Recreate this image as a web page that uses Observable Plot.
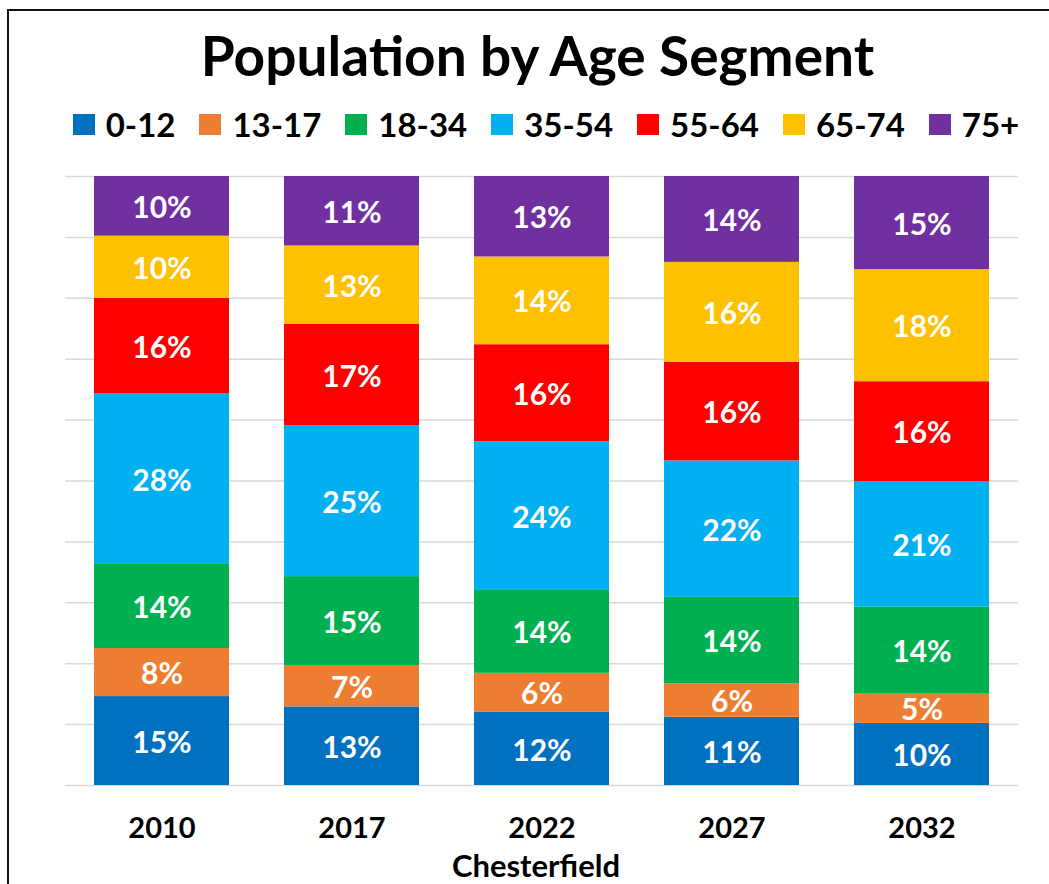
<!DOCTYPE html>
<html>
<head>
<meta charset="utf-8">
<script src="https://cdn.jsdelivr.net/npm/d3@7"></script>
<script src="https://cdn.jsdelivr.net/npm/@observablehq/plot@0.6"></script>
<style>
  html, body { margin: 0; padding: 0; background: #fff; }
  body { width: 1049px; height: 884px; position: relative; overflow: hidden; font-family: Lato, "Open Sans", sans-serif; }
  #frame { position: absolute; left: 7px; top: 9px; width: 1200px; height: 1000px; border: 2px solid #111; box-sizing: border-box; }
  #title { position: absolute; left: 0; width: 1075px; top: 28px; text-align: center; font-weight: 700; font-size: 55px; line-height: 1; color: #000; }
  #legend { position: absolute; left: 0; width: 1092px; top: 108px; display: flex; justify-content: center; font-weight: 700; font-size: 33px; line-height: 1; color: #000; }
  .item { display: flex; align-items: center; margin: 0 12px; }
  .sw { width: 22px; height: 21px; margin-right: 11px; }
  #chart { position: absolute; left: 0; top: 150px; }
</style>
</head>
<body>
<div id="frame"></div>
<div id="title">Population by Age Segment</div>
<div id="legend"></div>
<div id="chart"></div>
<script>
const years = ["2010", "2017", "2022", "2027", "2032"];
const segments = ["0-12", "13-17", "18-34", "35-54", "55-64", "65-74", "75+"];
const colors = ["#0070C0", "#ED7D31", "#00B050", "#00B0F0", "#FF0000", "#FFC000", "#7030A0"];

const v0_12  = [14.6, 12.9, 12.0, 11.2, 10.2];
const v13_17 = [7.9, 6.8, 6.4, 5.5, 4.9];
const v18_34 = [13.8, 14.6, 13.6, 14.2, 14.2];
const v35_54 = [28.0, 24.8, 24.4, 22.4, 20.6];
const v55_64 = [15.7, 16.6, 15.9, 16.2, 16.4];
const v65_74 = [10.2, 12.9, 14.4, 16.4, 18.4];
const v75    = [9.8, 11.4, 13.2, 14.1, 15.3];
const seriesValues = [v0_12, v13_17, v18_34, v35_54, v55_64, v65_74, v75];

const gridTicks = [0, 0.1, 0.2, 0.3, 0.4, 0.5, 0.6, 0.7, 0.8, 0.9, 1];
const xLabel = "Chesterfield";

const data = [];
segments.forEach((s, i) => {
  years.forEach((y, j) => {
    data.push({year: y, segment: s, value: seriesValues[i][j]});
  });
});

// legend
const legend = document.getElementById("legend");
segments.forEach((s, i) => {
  const it = document.createElement("div");
  it.className = "item";
  const sw = document.createElement("div");
  sw.className = "sw";
  sw.style.background = colors[i];
  const tx = document.createElement("span");
  tx.textContent = s;
  it.appendChild(sw);
  it.appendChild(tx);
  legend.appendChild(it);
});

const chart = Plot.plot({
  width: 1049,
  height: 734,
  marginLeft: 65,
  marginRight: 31,
  marginTop: 26,
  marginBottom: 99,
  style: {fontFamily: "Lato, 'Open Sans', sans-serif", fontSize: "29px", fontWeight: "bold", color: "#000", background: "transparent"},
  x: {domain: years, paddingInner: 0.29, paddingOuter: 0.149, tickSize: 0, tickPadding: 32, label: null},
  y: {domain: [0, 1], axis: null},
  color: {domain: segments, range: colors},
  marks: [
    Plot.ruleY(gridTicks, {stroke: "#d9d9d9", strokeWidth: 1.5}),
    Plot.barY(data, Plot.stackY({x: "year", y: "value", fill: "segment", offset: "normalize"})),
    Plot.text(data, Plot.stackY({
      x: "year", y: "value", z: "segment", offset: "normalize",
      text: d => Math.round(d.value) + "%",
      fill: "white", fontSize: 30, fontWeight: "bold", dy: 2
    })),
    Plot.text([xLabel], {frameAnchor: "bottom", text: d => d, dy: 91, dx: -6, fontSize: 31, fontWeight: "bold", fill: "black"})
  ]
});
document.getElementById("chart").appendChild(chart);
</script>
</body>
</html>
